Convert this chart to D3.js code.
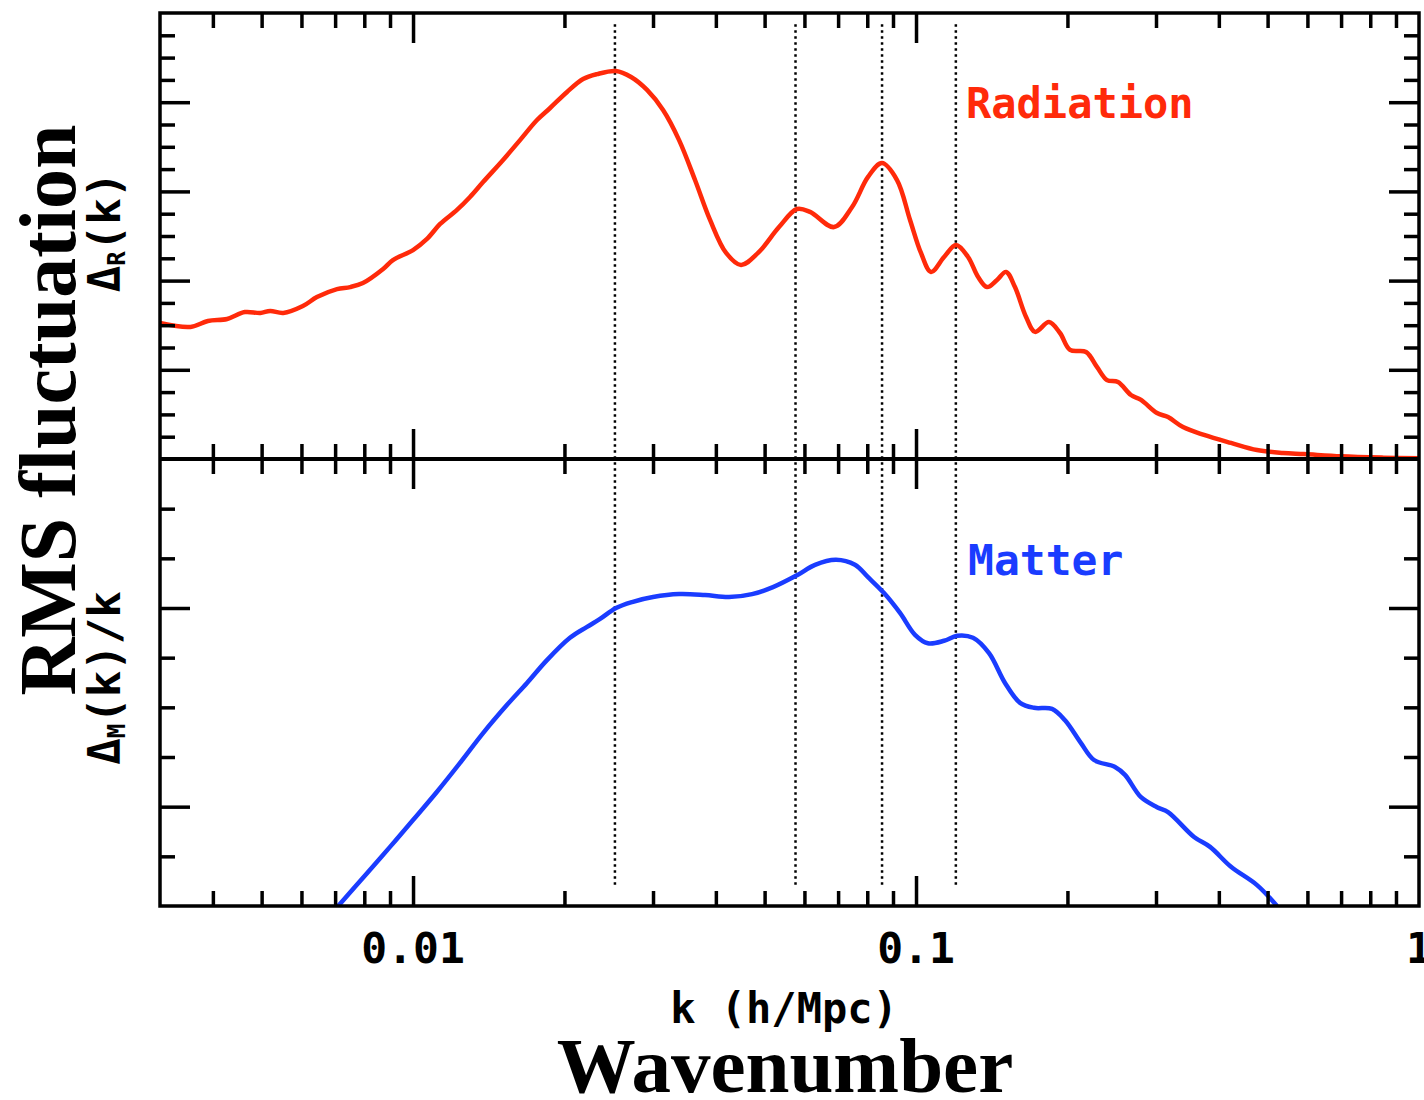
<!DOCTYPE html>
<html>
<head>
<meta charset="utf-8">
<script src="https://cdn.jsdelivr.net/npm/d3@7"></script>
<style>
  body { margin: 0; background: #fff; }
  svg { display: block; }
  .mono { font-family: "DejaVu Sans Mono", monospace; font-weight: bold; }
  .serif { font-family: "Liberation Serif", "Times New Roman", serif; font-weight: bold; }
</style>
</head>
<body>
<svg id="chart"></svg>
<script>
// Radiation: Delta_R(k)
const radK = [0.00314,0.00361,0.00391,0.00427,0.00463,0.00497,0.0052,0.00552,0.00604,0.00644,0.00706,0.0075,0.00795,0.00872,0.00912,0.01,0.01066,0.01132,0.01223,0.01298,0.01378,0.0151,0.01632,0.01764,0.01873,0.02024,0.02178,0.02322,0.02532,0.02713,0.02919,0.03141,0.0338,0.03636,0.03895,0.04192,0.04488,0.04852,0.05341,0.058,0.06157,0.06871,0.07463,0.08028,0.08557,0.09167,0.0973,0.1023,0.1071,0.1137,0.1201,0.1269,0.1329,0.1384,0.1449,0.151,0.1573,0.1655,0.1725,0.1838,0.1933,0.2024,0.2178,0.2289,0.2397,0.2521,0.2675,0.2801,0.3014,0.317,0.3395,0.3738,0.4229,0.4764,0.5365,0.5908,0.7,0.85,1.0];
const radV = [6.10,5.92,6.19,6.28,6.59,6.55,6.64,6.55,6.86,7.26,7.62,7.71,7.89,8.52,8.92,9.37,9.87,10.54,11.17,11.75,12.42,13.41,14.30,15.20,15.74,16.46,17.04,17.26,17.40,17.13,16.55,15.65,14.30,12.51,10.72,9.24,8.70,9.24,10.40,11.21,11.08,10.40,11.30,12.65,13.27,12.51,10.72,9.24,8.39,9.06,9.60,9.06,8.16,7.71,8.03,8.39,7.71,6.37,5.70,6.14,5.65,4.89,4.80,4.13,3.54,3.45,2.87,2.65,2.06,1.88,1.43,1.08,0.72,0.40,0.27,0.22,0.12,0.06,0.03];

// Matter: Delta_M(k)/k, bottom panel
const matK = [0.0071,0.0081,0.009,0.01,0.01116,0.0124,0.01378,0.01538,0.01685,0.01846,0.02051,0.02218,0.02354,0.02532,0.02725,0.03,0.0338,0.03806,0.04249,0.04721,0.05196,0.058,0.06299,0.06934,0.07561,0.08028,0.08637,0.09294,0.09954,0.1056,0.1137,0.1207,0.1298,0.1397,0.1503,0.161,0.1717,0.1864,0.1978,0.2128,0.2259,0.2487,0.2603,0.2801,0.3014,0.317,0.3571,0.3842,0.4229,0.4764,0.522];
const matV = [0,0.66,1.19,1.73,2.30,2.88,3.48,4.05,4.49,4.95,5.40,5.62,5.78,6.00,6.12,6.22,6.28,6.26,6.22,6.28,6.42,6.66,6.87,6.97,6.87,6.62,6.30,5.90,5.46,5.29,5.34,5.44,5.40,5.09,4.49,4.09,3.99,3.97,3.74,3.28,2.94,2.80,2.64,2.19,1.99,1.89,1.39,1.19,0.79,0.42,0];

// dotted markers at the acoustic peaks
const peakK = [0.0252, 0.0576, 0.0856, 0.12];

// ticks
const kMajor = [0.01, 0.1, 1];
const kMinor = [0.004,0.005,0.006,0.007,0.008,0.009,0.02,0.03,0.04,0.05,0.06,0.07,0.08,0.09,0.2,0.3,0.4,0.5,0.6,0.7,0.8,0.9];
const kLabels = ["0.01", "0.1", "1"];
const topMajor = [4, 8, 12, 16];
const topMinor = d3.range(1, 20).filter(v => v % 4 !== 0);
const botMajor = [2, 6];
const botMinor = [1, 3, 4, 5, 7, 8];

const W = 1424, H = 1100;
const pLeft = 160, pRight = 1419, pTop = 13, pMid = 459, pBottom = 906;

const svg = d3.select("#chart").attr("width", W).attr("height", H);

const x = d3.scaleLog().domain([0.00314, 1]).range([pLeft, pRight]);
const yTop = d3.scaleLinear().domain([0, 20]).range([pMid, pTop]);
const yBot = d3.scaleLinear().domain([0, 9]).range([pBottom, pMid]);

const RED = "#ff2a0a", BLUE = "#1a3cff";

// clip paths for each panel
const defs = svg.append("defs");
defs.append("clipPath").attr("id", "clipTop").append("rect")
    .attr("x", pLeft).attr("y", pTop).attr("width", pRight - pLeft).attr("height", pMid - pTop);
defs.append("clipPath").attr("id", "clipBot").append("rect")
    .attr("x", pLeft).attr("y", pMid).attr("width", pRight - pLeft).attr("height", pBottom - pMid);

// dotted vertical lines
svg.selectAll(".peak")
    .data(peakK)
    .enter().append("line")
    .attr("class", "peak")
    .attr("x1", d => x(d)).attr("x2", d => x(d))
    .attr("y1", yTop(19.5)).attr("y2", yBot(0.4))
    .attr("stroke", "#000")
    .attr("stroke-width", 2.5)
    .attr("stroke-dasharray", "2.5,3.5");

// curves
const lineTop = d3.line().x(d => x(d[0])).y(d => yTop(d[1])).curve(d3.curveCatmullRom.alpha(0.5));
const lineBot = d3.line().x(d => x(d[0])).y(d => yBot(d[1])).curve(d3.curveCatmullRom.alpha(0.5));

svg.append("path")
    .datum(d3.zip(radK, radV))
    .attr("clip-path", "url(#clipTop)")
    .attr("fill", "none")
    .attr("stroke", RED)
    .attr("stroke-width", 4.5)
    .attr("stroke-linejoin", "round")
    .attr("d", lineTop);

svg.append("path")
    .datum(d3.zip(matK, matV))
    .attr("clip-path", "url(#clipBot)")
    .attr("fill", "none")
    .attr("stroke", BLUE)
    .attr("stroke-width", 4.5)
    .attr("stroke-linejoin", "round")
    .attr("d", lineBot);

// inward ticks on every side of both panels
function ticks(axis, vals, len, transform) {
    const g = svg.append("g")
        .attr("transform", transform)
        .call(axis.tickValues(vals).tickSize(-len).tickFormat(""));
    g.select(".domain").remove();
    g.selectAll(".tick line").attr("stroke", "#000").attr("stroke-width", 3.5);
}
const MAJ = 30, MIN = 15;
[[pMid, d3.axisBottom], [pMid, d3.axisTop], [pTop, d3.axisTop], [pBottom, d3.axisBottom]].forEach(([yy, ax]) => {
    ticks(ax(x), kMajor.filter(k => k < 1), MAJ, `translate(0,${yy})`);
    ticks(ax(x), kMinor, MIN, `translate(0,${yy})`);
});
ticks(d3.axisLeft(yTop), topMajor, MAJ, `translate(${pLeft},0)`);
ticks(d3.axisLeft(yTop), topMinor, MIN, `translate(${pLeft},0)`);
ticks(d3.axisRight(yTop), topMajor, MAJ, `translate(${pRight},0)`);
ticks(d3.axisRight(yTop), topMinor, MIN, `translate(${pRight},0)`);
ticks(d3.axisLeft(yBot), botMajor, MAJ, `translate(${pLeft},0)`);
ticks(d3.axisLeft(yBot), botMinor, MIN, `translate(${pLeft},0)`);
ticks(d3.axisRight(yBot), botMajor, MAJ, `translate(${pRight},0)`);
ticks(d3.axisRight(yBot), botMinor, MIN, `translate(${pRight},0)`);

// frame
svg.append("rect")
    .attr("x", pLeft).attr("y", pTop)
    .attr("width", pRight - pLeft).attr("height", pBottom - pTop)
    .attr("fill", "none").attr("stroke", "#000").attr("stroke-width", 3.5);
svg.append("line")
    .attr("x1", pLeft).attr("x2", pRight).attr("y1", pMid).attr("y2", pMid)
    .attr("stroke", "#000").attr("stroke-width", 4);

// x tick labels
svg.selectAll(".klabel")
    .data(kMajor)
    .enter().append("text")
    .attr("class", "klabel mono")
    .attr("x", d => x(d))
    .attr("y", 963)
    .attr("text-anchor", "middle")
    .attr("font-size", 43)
    .text((d, i) => kLabels[i]);

svg.append("text").attr("class", "mono")
    .attr("x", 784).attr("y", 1023)
    .attr("text-anchor", "middle").attr("font-size", 42)
    .text("k (h/Mpc)");

svg.append("text").attr("class", "serif")
    .attr("x", 785).attr("y", 1092)
    .attr("text-anchor", "middle").attr("font-size", 79)
    .text("Wavenumber");

svg.append("text").attr("class", "serif")
    .attr("transform", "translate(75,410) rotate(-90)")
    .attr("text-anchor", "middle").attr("font-size", 80)
    .text("RMS fluctuation");

// panel y labels
function deltaLabel(cx, cy, sub, rest) {
    const t = svg.append("text").attr("class", "mono")
        .attr("transform", `translate(${cx},${cy}) rotate(-90)`)
        .attr("text-anchor", "middle").attr("font-size", 44);
    t.append("tspan").text("\u0394");
    t.append("tspan").attr("font-size", 24).attr("dy", 5).text(sub);
    t.append("tspan").attr("dy", -5).text(rest);
}
deltaLabel(120, 232, "R", "(k)");
deltaLabel(120, 678, "M", "(k)/k");

// series names
svg.append("text").attr("class", "mono")
    .attr("x", 966).attr("y", 118).attr("font-size", 42)
    .attr("fill", RED).text("Radiation");
svg.append("text").attr("class", "mono")
    .attr("x", 968).attr("y", 575).attr("font-size", 43)
    .attr("fill", BLUE).text("Matter");
</script>
</body>
</html>
